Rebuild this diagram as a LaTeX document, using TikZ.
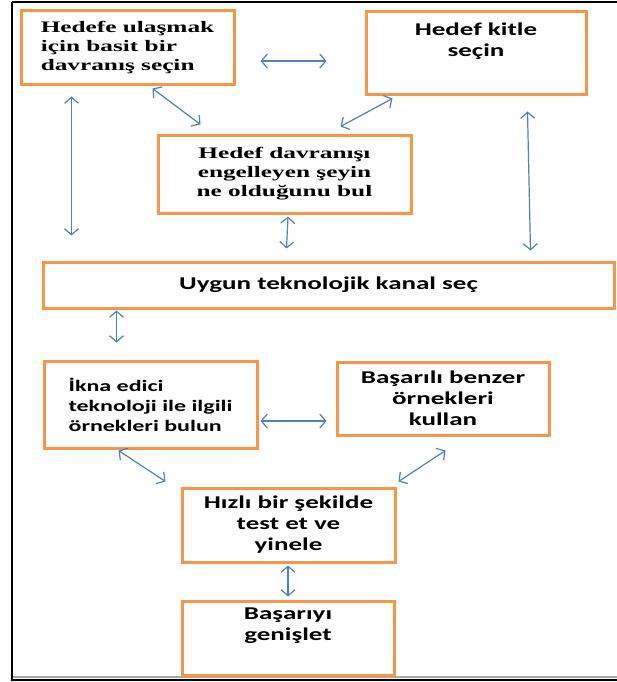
\documentclass[tikz,border=0pt]{standalone}
\usepackage{fontspec}
\setmainfont{Liberation Serif}
\newfontfamily\boxserif[FakeStretch=1.58]{Liberation Serif}
\newfontfamily\boxsans[FakeStretch=1.5]{Carlito}
\usetikzlibrary{arrows.meta,calc}
\definecolor{boxorange}{HTML}{F79646}
\definecolor{arrowblue}{HTML}{4F81BD}
\begin{document}
\begin{tikzpicture}[x=1pt,y=-1pt,
  box/.style={draw=boxorange,line width=3pt,fill=white,inner sep=0pt,anchor=center},
  sertext/.style={font=\boxserif\bfseries\fontsize{16}{19}\selectfont},
  santext/.style={font=\boxsans\bfseries\fontsize{18}{21}\selectfont},
  smalltext/.style={font=\boxsans\bfseries\fontsize{16}{20}\selectfont},
  conn/.style={draw=arrowblue,line width=1.2pt,
    {Straight Barb[length=6pt,width=14pt]}-{Straight Barb[length=6pt,width=14pt]}}]
\useasboundingbox (0,0) rectangle (616,682);
\fill[white] (0,0) rectangle (616,682);
% outer frame
\draw[black,line width=2pt] (12,2) -- (630,2);
\draw[black,line width=2pt] (12,2) -- (12,680) -- (630,680);
\draw[gray!70,line width=1.5pt] (13,677) -- (630,677);
% boxes
\node[box,sertext,minimum width=213,minimum height=74,align=left] (a1) at (127.5,48)
  {Hedefe ulaşmak\\için basit bir\\davranış seçin};
\node[box,santext,minimum width=220,minimum height=83,align=center] (a2) at (476,53.5)
  {Hedef kitle\\seçin\\\strut};
\node[box,sertext,minimum width=253,minimum height=78,align=center] (a3) at (284.5,174)
  {Hedef davranışı\\engelleyen şeyin\\ne olduğunu bul};
\node[box,santext,minimum width=571,minimum height=46,align=center] (a4) at (328.5,285)
  {\raisebox{3pt}{Uygun teknolojik kanal seç}};
\node[box,smalltext,minimum width=213,minimum height=87,align=left] (a5) at (150.5,404.5)
  {İkna edici\\teknoloji ile ilgili\\örnekleri bulun};
\node[box,santext,minimum width=212,minimum height=73,align=center] (a6) at (443,398.5)
  {Başarılı benzer\\örnekleri\\kullan};
\node[box,santext,minimum width=213,minimum height=74,align=center] (a7) at (288.5,525)
  {Hızlı bir şekilde\\test et ve\\yinele};
\node[box,santext,minimum width=212,minimum height=74,align=center] (a8) at (288,638)
  {Başarıyı\\genişlet\\\strut};
% connectors
\draw[conn] ([shift={(25,13)}]a1.east) -- ([shift={(-38,7.5)}]a2.west);
\draw[conn] ([shift={(133,2)}]a1.south west) -- ([shift={(44,-9)}]a3.north west);
\draw[conn] ([shift={(28,2)}]a2.south west) -- ([shift={(-72,-7)}]a3.north east);
\draw[conn] ([shift={(52,10)}]a1.south west) -- ([shift={(30,-25)}]a4.north west);
\draw[conn] ([shift={(3.5,2)}]a3.south) -- ([shift={(245,-12)}]a4.north west);
\draw[conn] ([shift={(163,15)}]a2.south west) -- ([shift={(-85,-10)}]a4.north east);
\draw[conn] ([shift={(75,1)}]a4.south west) -- ([shift={(74,-17)}]a5.north west);
\draw[conn] ([shift={(2,16.5)}]a5.east) -- ([shift={(-9,22.5)}]a6.west);
\draw[conn] ([shift={(76,1)}]a5.south west) -- ([shift={(-15,-5)}]a7.north west);
\draw[conn] ([shift={(110,14)}]a6.south west) -- ([shift={(2,-5)}]a7.north east);
\draw[conn] ([shift={(-0.5,2)}]a7.south) -- ([shift={(0,-3)}]a8.north);
\end{tikzpicture}
\end{document}
